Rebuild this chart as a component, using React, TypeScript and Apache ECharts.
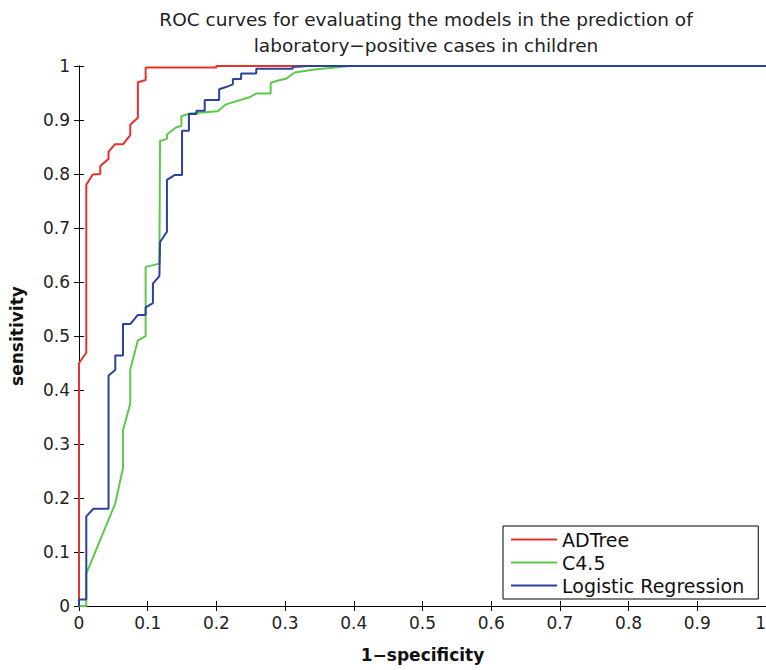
import React, { useEffect, useRef } from "react";
import * as echarts from "echarts";

const titleLines = [
  "ROC curves for evaluating the models in the prediction of",
  "laboratory\u2212positive cases in children",
];
const xName = "1\u2212specificity";
const yName = "sensitivity";
const modelNames = ["ADTree", "C4.5", "Logistic Regression"];
const modelColors = ["#e5322b", "#5cc94b", "#2c40a0"];

const adtreeFpr = [0, 0, 0.0106, 0.0106, 0.02, 0.031, 0.031, 0.043, 0.043, 0.052, 0.064, 0.0746, 0.0746, 0.0857, 0.0857, 0.097, 0.097, 0.2, 0.2, 1];
const adtreeTpr = [0, 0.45, 0.469, 0.78, 0.799, 0.8, 0.815, 0.828, 0.841, 0.855, 0.855, 0.872, 0.891, 0.904, 0.97, 0.974, 0.997, 0.997, 1, 1];

const c45Fpr = [0, 0.0106, 0.0106, 0.0528, 0.064, 0.064, 0.0746, 0.0746, 0.0857, 0.097, 0.097, 0.117, 0.118, 0.128, 0.128, 0.141, 0.149, 0.149, 0.161, 0.202, 0.214, 0.248, 0.258, 0.279, 0.279, 0.29, 0.302, 0.314, 0.34, 0.394, 1];
const c45Tpr = [0, 0, 0.06, 0.19, 0.255, 0.325, 0.375, 0.438, 0.492, 0.4997, 0.628, 0.634, 0.861, 0.865, 0.873, 0.886, 0.889, 0.907, 0.912, 0.916, 0.929, 0.942, 0.949, 0.949, 0.969, 0.973, 0.977, 0.988, 0.993, 1, 1];

const logitFpr = [0, 0, 0.0106, 0.0106, 0.021, 0.043, 0.043, 0.0528, 0.0528, 0.064, 0.064, 0.0746, 0.0857, 0.097, 0.097, 0.1076, 0.1076, 0.117, 0.118, 0.128, 0.128, 0.139, 0.15, 0.15, 0.16, 0.16, 0.171, 0.171, 0.183, 0.183, 0.204, 0.204, 0.214, 0.224, 0.224, 0.236, 0.236, 0.258, 0.258, 0.311, 0.311, 0.333, 1];
const logitTpr = [0, 0.012, 0.012, 0.166, 0.18, 0.18, 0.427, 0.437, 0.464, 0.464, 0.522, 0.522, 0.539, 0.539, 0.553, 0.561, 0.597, 0.611, 0.674, 0.693, 0.789, 0.798, 0.798, 0.88, 0.88, 0.911, 0.911, 0.917, 0.917, 0.937, 0.937, 0.957, 0.961, 0.966, 0.976, 0.976, 0.986, 0.986, 0.995, 0.995, 0.998, 1, 1];

const FONT = "'DejaVu Sans', 'Liberation Sans', Arial, sans-serif";

function zip(xs: number[], ys: number[]) {
  return xs.map((x, i) => [x, ys[i]]);
}

export default function App() {
  const ref = useRef<HTMLDivElement>(null);
  useEffect(() => {
    if (!ref.current) return;
    const chart = echarts.init(ref.current, null, { renderer: "svg" });
    const curves = [
      zip(adtreeFpr, adtreeTpr),
      zip(c45Fpr, c45Tpr),
      zip(logitFpr, logitTpr),
    ];
    const tickLabel = (v: number) => String(Math.round(v * 10) / 10);
    const baseAxis = {
      type: "value" as const,
      min: 0,
      max: 1,
      interval: 0.1,
      splitLine: { show: false },
      axisLine: { show: true, lineStyle: { color: "#000", width: 1 } },
      axisTick: { show: true, inside: true, length: 5, lineStyle: { color: "#000" } },
    };
    chart.setOption({
      animation: false,
      backgroundColor: "#fff",
      textStyle: { fontFamily: FONT },
      title: {
        text: titleLines.join("\n"),
        left: 421,
        top: 1,
        textAlign: "center",
        textStyle: { fontFamily: FONT, fontSize: 18.5, fontWeight: "normal", color: "#222", lineHeight: 26 },
      },
      grid: { left: 79, right: 0, top: 66, bottom: 64, outerBoundsMode: "none", containLabel: false },
      legend: {
        orient: "vertical",
        left: 503,
        top: 526,
        backgroundColor: "#fff",
        borderColor: "#000",
        borderWidth: 1,
        borderRadius: 0,
        padding: [3, 14, 3, 8],
        icon: "rect",
        itemWidth: 46,
        itemHeight: 2,
        itemGap: 2,
        textStyle: { fontFamily: FONT, fontSize: 19, color: "#111", lineHeight: 21 },
        data: modelNames,
      },
      xAxis: [
        {
          ...baseAxis,
          position: "bottom",
          name: xName,
          nameLocation: "middle",
          nameGap: 40,
          nameTextStyle: { fontFamily: FONT, fontSize: 17, fontWeight: "bold", color: "#111" },
          axisLabel: {
            formatter: tickLabel,
            fontSize: 17,
            color: "#222",
            margin: 8,
            fontFamily: FONT,
            alignMaxLabel: "right",
          },
        },
        { ...baseAxis, position: "top", axisLabel: { show: false } },
      ],
      yAxis: [
        {
          ...baseAxis,
          position: "left",
          name: yName,
          nameLocation: "middle",
          nameGap: 54,
          nameTextStyle: { fontFamily: FONT, fontSize: 17, fontWeight: "bold", color: "#111" },
          axisLabel: { formatter: tickLabel, fontSize: 17, color: "#222", margin: 9, fontFamily: FONT },
        },
        { ...baseAxis, position: "right", axisLabel: { show: false } },
      ],
      series: curves.map((d, i) => ({
        name: modelNames[i],
        type: "line",
        data: d,
        showSymbol: false,
        symbol: "none",
        lineStyle: { color: modelColors[i], width: 2 },
        itemStyle: { color: modelColors[i] },
        z: 2 + i,
      })),
    });
    return () => chart.dispose();
  }, []);
  return (
    <div
      ref={ref}
      style={{ position: "fixed", left: 0, top: 0, width: 766, height: 670, background: "#fff" }}
    />
  );
}
